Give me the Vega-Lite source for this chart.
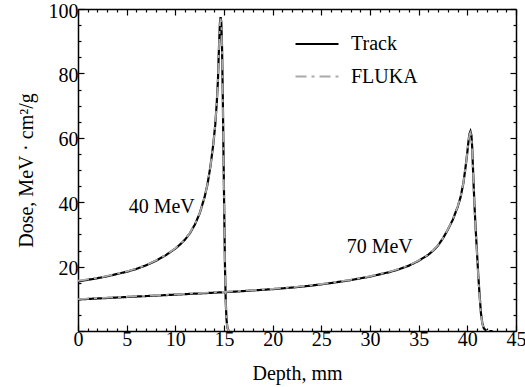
{
  "$schema": "https://vega.github.io/schema/vega-lite/v6.json",
  "width": 438,
  "height": 322,
  "autosize": {"type": "none"},
  "padding": {"left": 78, "top": 9, "right": 9, "bottom": 56},
  "background": "white",
  "config": {
    "view": {"stroke": null},
    "font": "Liberation Serif",
    "axis": {
      "domainColor": "black", "domainWidth": 1.5, "tickColor": "black", "tickWidth": 1.2,
      "labelFont": "Liberation Serif", "labelFontSize": 20, "labelColor": "black",
      "titleFont": "Liberation Serif", "titleFontSize": 20, "titleFontWeight": "normal", "titleColor": "black",
      "grid": false, "labelOverlap": false, "labelFlush": false
    },
    "legend": {
      "labelFont": "Liberation Serif", "labelFontSize": 20, "labelColor": "black",
      "symbolType": "stroke", "symbolSize": 1849, "symbolStrokeWidth": 2,
      "orient": "none", "legendX": 216, "legendY": 12, "labelOffset": 11, "rowPadding": -22
    }
  },
  "data": {"values": [
    {"src":"Track","E":"40","d":0,"v":15.4},{"src":"Track","E":"40","d":1,"v":15.9},{"src":"Track","E":"40","d":2,"v":16.4},{"src":"Track","E":"40","d":3,"v":17.0},{"src":"Track","E":"40","d":4,"v":17.7},{"src":"Track","E":"40","d":5,"v":18.4},{"src":"Track","E":"40","d":6,"v":19.3},{"src":"Track","E":"40","d":7,"v":20.4},{"src":"Track","E":"40","d":8,"v":21.8},{"src":"Track","E":"40","d":9,"v":23.5},{"src":"Track","E":"40","d":10,"v":25.6},{"src":"Track","E":"40","d":10.5,"v":26.9},{"src":"Track","E":"40","d":11,"v":28.4},{"src":"Track","E":"40","d":11.5,"v":30.4},{"src":"Track","E":"40","d":12,"v":33.0},{"src":"Track","E":"40","d":12.5,"v":36.5},{"src":"Track","E":"40","d":13,"v":41.5},{"src":"Track","E":"40","d":13.3,"v":45.5},{"src":"Track","E":"40","d":13.6,"v":51},{"src":"Track","E":"40","d":13.9,"v":58},{"src":"Track","E":"40","d":14.1,"v":64},{"src":"Track","E":"40","d":14.26,"v":71},{"src":"Track","E":"40","d":14.38,"v":78},{"src":"Track","E":"40","d":14.45,"v":85},{"src":"Track","E":"40","d":14.52,"v":91},{"src":"Track","E":"40","d":14.58,"v":95.5},{"src":"Track","E":"40","d":14.65,"v":97.5},{"src":"Track","E":"40","d":14.72,"v":96},{"src":"Track","E":"40","d":14.8,"v":88},{"src":"Track","E":"40","d":14.88,"v":72},{"src":"Track","E":"40","d":14.95,"v":55},{"src":"Track","E":"40","d":15.02,"v":38},{"src":"Track","E":"40","d":15.1,"v":20},{"src":"Track","E":"40","d":15.18,"v":9},{"src":"Track","E":"40","d":15.26,"v":3.5},{"src":"Track","E":"40","d":15.35,"v":1},{"src":"Track","E":"40","d":15.45,"v":0.2},{"src":"Track","E":"40","d":15.55,"v":0},
    {"src":"Track","E":"70","d":0,"v":9.8},{"src":"Track","E":"70","d":2,"v":10.1},{"src":"Track","E":"70","d":4,"v":10.4},{"src":"Track","E":"70","d":6,"v":10.7},{"src":"Track","E":"70","d":8,"v":11.0},{"src":"Track","E":"70","d":10,"v":11.3},{"src":"Track","E":"70","d":12,"v":11.6},{"src":"Track","E":"70","d":14,"v":11.9},{"src":"Track","E":"70","d":16,"v":12.2},{"src":"Track","E":"70","d":18,"v":12.6},{"src":"Track","E":"70","d":20,"v":13.0},{"src":"Track","E":"70","d":22,"v":13.5},{"src":"Track","E":"70","d":24,"v":14.1},{"src":"Track","E":"70","d":26,"v":14.9},{"src":"Track","E":"70","d":28,"v":15.8},{"src":"Track","E":"70","d":30,"v":16.9},{"src":"Track","E":"70","d":32,"v":18.3},{"src":"Track","E":"70","d":33,"v":19.2},{"src":"Track","E":"70","d":34,"v":20.3},{"src":"Track","E":"70","d":35,"v":21.8},{"src":"Track","E":"70","d":36,"v":23.7},{"src":"Track","E":"70","d":36.5,"v":25.0},{"src":"Track","E":"70","d":37,"v":26.6},{"src":"Track","E":"70","d":37.5,"v":28.8},{"src":"Track","E":"70","d":38,"v":31.5},{"src":"Track","E":"70","d":38.5,"v":34.5},{"src":"Track","E":"70","d":39,"v":38.5},{"src":"Track","E":"70","d":39.3,"v":41.5},{"src":"Track","E":"70","d":39.6,"v":46},{"src":"Track","E":"70","d":39.8,"v":50.5},{"src":"Track","E":"70","d":40.0,"v":55.5},{"src":"Track","E":"70","d":40.12,"v":59},{"src":"Track","E":"70","d":40.22,"v":61.2},{"src":"Track","E":"70","d":40.32,"v":62},{"src":"Track","E":"70","d":40.42,"v":60.8},{"src":"Track","E":"70","d":40.5,"v":57},{"src":"Track","E":"70","d":40.6,"v":49},{"src":"Track","E":"70","d":40.72,"v":40},{"src":"Track","E":"70","d":40.85,"v":32},{"src":"Track","E":"70","d":41.0,"v":24},{"src":"Track","E":"70","d":41.12,"v":17.5},{"src":"Track","E":"70","d":41.25,"v":11.5},{"src":"Track","E":"70","d":41.4,"v":5.5},{"src":"Track","E":"70","d":41.55,"v":2.2},{"src":"Track","E":"70","d":41.7,"v":0.8},{"src":"Track","E":"70","d":41.9,"v":0.2},{"src":"Track","E":"70","d":42.1,"v":0},{"src":"Track","E":"70","d":42.6,"v":0},
    {"src":"FLUKA","E":"40","d":0,"v":15.6},{"src":"FLUKA","E":"40","d":1,"v":16.0},{"src":"FLUKA","E":"40","d":2,"v":16.5},{"src":"FLUKA","E":"40","d":3,"v":17.1},{"src":"FLUKA","E":"40","d":4,"v":17.8},{"src":"FLUKA","E":"40","d":5,"v":18.5},{"src":"FLUKA","E":"40","d":6,"v":19.4},{"src":"FLUKA","E":"40","d":7,"v":20.5},{"src":"FLUKA","E":"40","d":8,"v":21.9},{"src":"FLUKA","E":"40","d":9,"v":23.6},{"src":"FLUKA","E":"40","d":10,"v":25.7},{"src":"FLUKA","E":"40","d":10.5,"v":27.0},{"src":"FLUKA","E":"40","d":11,"v":28.5},{"src":"FLUKA","E":"40","d":11.5,"v":30.5},{"src":"FLUKA","E":"40","d":12,"v":33.1},{"src":"FLUKA","E":"40","d":12.5,"v":36.6},{"src":"FLUKA","E":"40","d":13,"v":41.5},{"src":"FLUKA","E":"40","d":13.3,"v":45.5},{"src":"FLUKA","E":"40","d":13.6,"v":51},{"src":"FLUKA","E":"40","d":13.9,"v":58},{"src":"FLUKA","E":"40","d":14.1,"v":64},{"src":"FLUKA","E":"40","d":14.26,"v":71},{"src":"FLUKA","E":"40","d":14.38,"v":78},{"src":"FLUKA","E":"40","d":14.45,"v":85},{"src":"FLUKA","E":"40","d":14.52,"v":91},{"src":"FLUKA","E":"40","d":14.58,"v":95},{"src":"FLUKA","E":"40","d":14.65,"v":97},{"src":"FLUKA","E":"40","d":14.72,"v":95.5},{"src":"FLUKA","E":"40","d":14.8,"v":88},{"src":"FLUKA","E":"40","d":14.88,"v":72},{"src":"FLUKA","E":"40","d":14.95,"v":55},{"src":"FLUKA","E":"40","d":15.02,"v":38},{"src":"FLUKA","E":"40","d":15.1,"v":20},{"src":"FLUKA","E":"40","d":15.18,"v":9},{"src":"FLUKA","E":"40","d":15.26,"v":3.5},{"src":"FLUKA","E":"40","d":15.35,"v":1},{"src":"FLUKA","E":"40","d":15.45,"v":0.2},{"src":"FLUKA","E":"40","d":15.55,"v":0},
    {"src":"FLUKA","E":"70","d":0,"v":9.9},{"src":"FLUKA","E":"70","d":2,"v":10.2},{"src":"FLUKA","E":"70","d":4,"v":10.5},{"src":"FLUKA","E":"70","d":6,"v":10.8},{"src":"FLUKA","E":"70","d":8,"v":11.1},{"src":"FLUKA","E":"70","d":10,"v":11.4},{"src":"FLUKA","E":"70","d":12,"v":11.7},{"src":"FLUKA","E":"70","d":14,"v":12.0},{"src":"FLUKA","E":"70","d":16,"v":12.3},{"src":"FLUKA","E":"70","d":18,"v":12.7},{"src":"FLUKA","E":"70","d":20,"v":13.1},{"src":"FLUKA","E":"70","d":22,"v":13.6},{"src":"FLUKA","E":"70","d":24,"v":14.2},{"src":"FLUKA","E":"70","d":26,"v":15.0},{"src":"FLUKA","E":"70","d":28,"v":15.9},{"src":"FLUKA","E":"70","d":30,"v":17.0},{"src":"FLUKA","E":"70","d":32,"v":18.4},{"src":"FLUKA","E":"70","d":33,"v":19.3},{"src":"FLUKA","E":"70","d":34,"v":20.4},{"src":"FLUKA","E":"70","d":35,"v":21.9},{"src":"FLUKA","E":"70","d":36,"v":23.8},{"src":"FLUKA","E":"70","d":36.5,"v":25.1},{"src":"FLUKA","E":"70","d":37,"v":26.7},{"src":"FLUKA","E":"70","d":37.5,"v":28.9},{"src":"FLUKA","E":"70","d":38,"v":31.6},{"src":"FLUKA","E":"70","d":38.5,"v":34.6},{"src":"FLUKA","E":"70","d":39,"v":38.6},{"src":"FLUKA","E":"70","d":39.3,"v":41.6},{"src":"FLUKA","E":"70","d":39.6,"v":46},{"src":"FLUKA","E":"70","d":39.8,"v":50.5},{"src":"FLUKA","E":"70","d":40.0,"v":55.5},{"src":"FLUKA","E":"70","d":40.12,"v":59},{"src":"FLUKA","E":"70","d":40.22,"v":61},{"src":"FLUKA","E":"70","d":40.32,"v":61.6},{"src":"FLUKA","E":"70","d":40.42,"v":60.3},{"src":"FLUKA","E":"70","d":40.5,"v":56.5},{"src":"FLUKA","E":"70","d":40.6,"v":48.5},{"src":"FLUKA","E":"70","d":40.72,"v":39.5},{"src":"FLUKA","E":"70","d":40.85,"v":31.5},{"src":"FLUKA","E":"70","d":41.0,"v":23.5},{"src":"FLUKA","E":"70","d":41.12,"v":17},{"src":"FLUKA","E":"70","d":41.25,"v":11},{"src":"FLUKA","E":"70","d":41.4,"v":5.2},{"src":"FLUKA","E":"70","d":41.55,"v":2.1},{"src":"FLUKA","E":"70","d":41.7,"v":0.8},{"src":"FLUKA","E":"70","d":41.9,"v":0.2},{"src":"FLUKA","E":"70","d":42.1,"v":0},{"src":"FLUKA","E":"70","d":42.6,"v":0}
  ]},
  "resolve": {"axis": {"x": "independent", "y": "independent"}},
  "layer": [
    {
      "mark": {"type": "line", "clip": true},
      "encoding": {
        "x": {"field": "d", "type": "quantitative", "scale": {"domain": [0, 45], "nice": false, "zero": false},
          "axis": {"values": [0,1,2,3,4,5,6,7,8,9,10,11,12,13,14,15,16,17,18,19,20,21,22,23,24,25,26,27,28,29,30,31,32,33,34,35,36,37,38,39,40,41,42,43,44,45],
            "labelExpr": "datum.value % 5 === 0 ? datum.label : ''",
            "tickSize": {"condition": {"test": "datum.value % 5 === 0", "value": -6}, "value": -3},
            "labelPadding": 4, "title": "Depth, mm", "titlePadding": 11}},
        "y": {"field": "v", "type": "quantitative", "scale": {"domain": [0, 100], "nice": false},
          "axis": {"values": [0,5,10,15,20,25,30,35,40,45,50,55,60,65,70,75,80,85,90,95,100],
            "labelExpr": "datum.value % 20 === 0 && datum.value > 0 ? datum.label : ''",
            "tickSize": {"condition": {"test": "datum.value % 20 === 0", "value": -6}, "value": -3},
            "labelPadding": 6, "labelOffset": 2, "title": "Dose, MeV · cm²/g", "titlePadding": 12}},
        "color": {"field": "src", "type": "nominal", "scale": {"domain": ["Track", "FLUKA"], "range": ["black", "#aaaaaa"]}, "legend": {"title": null}},
        "strokeDash": {"field": "src", "type": "nominal", "scale": {"domain": ["Track", "FLUKA"], "range": [[1, 0], [11, 5, 3, 5]]}, "legend": {"title": null}},
        "strokeWidth": {"field": "src", "type": "nominal", "scale": {"domain": ["Track", "FLUKA"], "range": [2.2, 1.8]}, "legend": null},
        "detail": {"field": "E"}
      }
    },
    {
      "mark": {"type": "line", "opacity": 0},
      "encoding": {
        "x": {"field": "d", "type": "quantitative",
          "axis": {"orient": "top", "values": [0,1,2,3,4,5,6,7,8,9,10,11,12,13,14,15,16,17,18,19,20,21,22,23,24,25,26,27,28,29,30,31,32,33,34,35,36,37,38,39,40,41,42,43,44,45],
            "labels": false, "title": null,
            "tickSize": {"condition": {"test": "datum.value % 5 === 0", "value": -6}, "value": -3}}},
        "y": {"field": "v", "type": "quantitative",
          "axis": {"orient": "right", "values": [0,5,10,15,20,25,30,35,40,45,50,55,60,65,70,75,80,85,90,95,100],
            "labels": false, "title": null,
            "tickSize": {"condition": {"test": "datum.value % 20 === 0", "value": -6}, "value": -3}}},
        "detail": {"field": "E"}
      }
    },
    {
      "data": {"values": [{"label": "40 MeV"}]},
      "mark": {"type": "text", "font": "Liberation Serif", "fontSize": 20, "align": "center", "baseline": "middle", "color": "black"},
      "encoding": {
        "x": {"datum": 8.6, "type": "quantitative", "axis": null},
        "y": {"datum": 38.5, "type": "quantitative", "axis": null},
        "text": {"field": "label"}
      }
    },
    {
      "data": {"values": [{"label": "70 MeV"}]},
      "mark": {"type": "text", "font": "Liberation Serif", "fontSize": 20, "align": "center", "baseline": "middle", "color": "black"},
      "encoding": {
        "x": {"datum": 31.0, "type": "quantitative", "axis": null},
        "y": {"datum": 26.2, "type": "quantitative", "axis": null},
        "text": {"field": "label"}
      }
    }
  ]
}
